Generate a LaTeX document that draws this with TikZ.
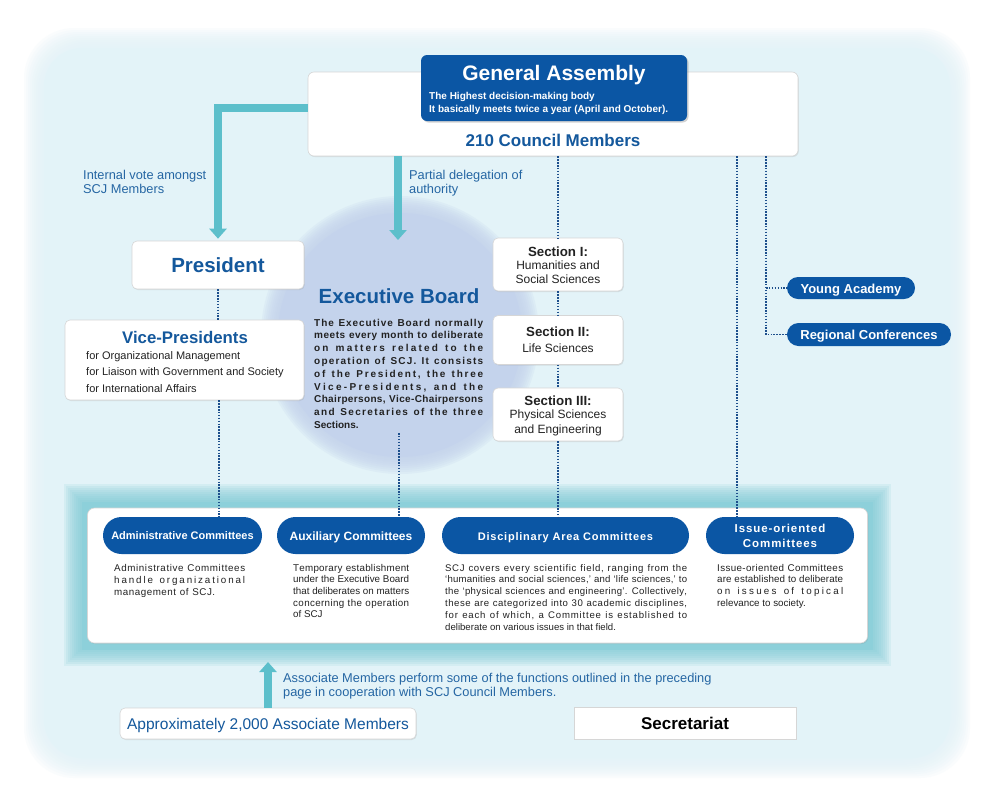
\documentclass[tikz,border=0pt]{standalone}
\usepackage{fontspec}
\setmainfont{Liberation Sans}
\usetikzlibrary{arrows.meta,shadows,calc}
\definecolor{bgc}{HTML}{E3F3F8}
\definecolor{dblue}{HTML}{0B56A4}
\definecolor{tblue}{HTML}{14589C}
\definecolor{lblue}{HTML}{2566A3}
\definecolor{tealc}{HTML}{5CBFCB}
\definecolor{dotc}{HTML}{1D4F8C}
\definecolor{circc}{HTML}{C4D3EC}
\definecolor{glowc}{HTML}{80CBD6}
\definecolor{txt}{HTML}{222222}
\newcommand\fsz[2]{\fontsize{#1}{#2}\selectfont}
\ExplSyntaxOn
\cs_new:Npn \spreadline #1 #2
  { \hbox_to_wd:nn {#1 pt}
      { \str_map_inline:nn {#2} { ##1 \skip_horizontal:n { 0pt plus 1fil minus 0.35pt } } \unskip } }
\ExplSyntaxOff
\begin{document}
\begin{tikzpicture}[x=1pt,y=-1pt,
  wbox/.style={draw=black!16, line width=0.6pt, fill=white, rounded corners=5pt, inner sep=0pt,
    drop shadow={shadow xshift=0.8pt, shadow yshift=-1pt, opacity=0.18}},
  gabox/.style={fill=dblue, rounded corners=6pt, inner sep=0pt,
    drop shadow={shadow xshift=1.5pt, shadow yshift=-1.5pt, opacity=0.35}},
  pill/.style={fill=dblue, inner sep=0pt},
  lbl/.style={inner sep=0pt},
  dotl/.style={draw=dotc, line width=1.6pt, dash pattern=on 1.5pt off 1.4pt},
  tarrow/.style={draw=tealc, line width=7.5pt, -{Triangle[width=17pt,length=10pt]}},
]
\useasboundingbox (0,0) rectangle (1000,801);
% background
\fill[white] (0,0) rectangle (1000,801);
\foreach \d in {0,2,...,18}
  \fill[bgc, opacity=0.17, rounded corners=50pt] (24+\d,28+\d) rectangle (970-\d,778-\d);
\fill[bgc, rounded corners=38pt] (44,48) rectangle (950,758);
% executive board circle
\foreach \r in {139,137,...,123}
  \fill[circc, opacity=0.2] (400,335) circle[radius=\r pt];
\node[circle, fill=circc, inner sep=0pt, minimum size=244pt] (eb) at (400,335) {};
% committees panel glow
\foreach \d in {0,2,...,16}
  \fill[glowc, opacity=0.15] (64+\d,484+\d) rectangle (891-\d,666-\d);
\fill[glowc!90!white] (82,502) rectangle (873,650);
\coordinate (pbot) at (268,662);
\node[wbox, rounded corners=7pt, minimum width=780pt, minimum height=135pt] (panel) at (477.5,575.5) {};

% council / general assembly
\node[wbox, rounded corners=6pt, minimum width=490pt, minimum height=84pt] (council) at (553,114) {};
\node[gabox, minimum width=266pt, minimum height=66pt] (ga) at (554,88) {};
\node[lbl, anchor=base, text=white, font=\bfseries\fsz{21}{24}] (gat) at (554,80) {General Assembly};
\node[lbl, anchor=base west, text=white, font=\bfseries\fsz{10}{13}, align=left] (gas) at (429,112.5)
  {The Highest decision-making body\\It basically meets twice a year (April and October).};
\node[lbl, anchor=base, text=tblue, font=\bfseries\fsz{17}{20}] (cm) at (553,146) {210 Council Members};

% president
\node[wbox, minimum width=172pt, minimum height=48pt] (pres) at (218,265) {};
\node[lbl, anchor=base, text=tblue, font=\bfseries\fsz{20.5}{24}] (prest) at (218,272.5) {President};

% teal arrows
\coordinate (ebtop) at (398,240);
\draw[tarrow] ([yshift=6pt]council.west) -| ([yshift=2pt]pres.north);
\draw[tarrow] (council.south -| ebtop) -- (ebtop);
\node[lbl, anchor=base west, align=left, text=lblue, font=\fsz{12.8}{14}] (lab1) at (83,193)
  {Internal vote amongst\\SCJ Members};
\node[lbl, anchor=base west, align=left, text=lblue, font=\fsz{12.8}{14}] (lab2) at (409,193)
  {Partial delegation of\\authority};

% executive board text
\node[lbl, anchor=base, text=tblue, font=\bfseries\fsz{20.5}{24}] (ebt) at (399,303) {Executive Board};
\node[lbl, anchor=base west, align=left, text=txt, font=\bfseries\fsz{10}{12.8}] (ebtxt) at (314,428.4)
  {\spreadline{169}{The Executive Board normally}\\
   \spreadline{169}{meets every month to deliberate}\\
   \spreadline{169}{on matters related to the}\\
   \spreadline{169}{operation of SCJ. It consists}\\
   \spreadline{169}{of the President, the three}\\
   \spreadline{169}{Vice-Presidents, and the}\\
   \spreadline{169}{Chairpersons, Vice-Chairpersons}\\
   \spreadline{169}{and Secretaries of the three}\\
   Sections.};
\coordinate (ebd) at (399,433);

% vice presidents
\node[wbox, minimum width=239pt, minimum height=80pt] (vp) at (184.5,360) {};
\node[lbl, anchor=base, text=tblue, font=\bfseries\fsz{16.8}{20}] (vpt) at (185,343) {Vice-Presidents};
\node[lbl, anchor=base west, align=left, text=txt, font=\fsz{11}{16.5}] (vpl) at (86,392)
  {for Organizational Management\\for Liaison with Government and Society\\for International Affairs};

% sections
\node[wbox, minimum width=130pt, minimum height=53pt] (sec1) at (558,264.5) {};
\node[lbl, anchor=base, text=txt, font=\bfseries\fsz{13.3}{15}] (s1t) at (558,256) {Section I:};
\node[lbl, anchor=base, align=center, text=txt, font=\fsz{12}{14.2}] (s1b) at (558,283.2) {Humanities and\\Social Sciences};
\node[wbox, minimum width=130pt, minimum height=49pt] (sec2) at (558,340) {};
\node[lbl, anchor=base, text=txt, font=\bfseries\fsz{13.3}{15}] (s2t) at (558,336) {Section II:};
\node[lbl, anchor=base, text=txt, font=\fsz{12}{14.2}] (s2b) at (558,352) {Life Sciences};
\node[wbox, minimum width=130pt, minimum height=53pt] (sec3) at (558,414.5) {};
\node[lbl, anchor=base, text=txt, font=\bfseries\fsz{13.3}{15}] (s3t) at (558,405.5) {Section III:};
\node[lbl, anchor=base, align=center, text=txt, font=\fsz{12}{14.5}] (s3b) at (558,433) {Physical Sciences\\and Engineering};

% young academy / regional
\node[pill, rounded corners=11pt, minimum width=128pt, minimum height=22pt] (young) at (851,288) {};
\node[lbl, anchor=base, text=white, font=\bfseries\fsz{13}{14}] (youngt) at (851,293) {Young Academy};
\node[pill, rounded corners=11.5pt, minimum width=164pt, minimum height=23pt] (regional) at (869,334.5) {};
\node[lbl, anchor=base, text=white, font=\bfseries\fsz{13}{14}] (regt) at (869,339) {Regional Conferences};

% committees
\node[pill, rounded corners=18.5pt, minimum width=159pt, minimum height=37pt] (admin) at (182.5,535.5) {};
\node[lbl, anchor=base, text=white, font=\bfseries\fsz{11}{13}] (admint) at (182.5,539) {Administrative Committees};
\node[pill, rounded corners=18.5pt, minimum width=148pt, minimum height=37pt] (aux) at (351,535.5) {};
\node[lbl, anchor=base, text=white, font=\bfseries\fsz{12}{13}] (auxt) at (351,540) {Auxiliary Committees};
\node[pill, rounded corners=18.5pt, minimum width=247pt, minimum height=37pt] (disc) at (565.5,535.5) {};
\node[lbl, anchor=base, text=white, font=\bfseries\fsz{11}{13}\addfontfeature{LetterSpace=7}] (disct) at (565.5,540) {Disciplinary Area Committees};
\node[pill, rounded corners=18.5pt, minimum width=148pt, minimum height=37pt] (issue) at (780,535.5) {};
\node[lbl, anchor=base, align=center, text=white, font=\bfseries\fsz{11.5}{15}\addfontfeature{LetterSpace=8}] (issuet) at (780,547) {Issue-oriented\\Committees};

\node[lbl, anchor=base west, align=left, text=txt, font=\fsz{9.8}{12}] (admind) at (114,595)
  {\spreadline{131}{Administrative Committees}\\
   \spreadline{131}{handle organizational}\\
   \spreadline{101}{management of SCJ.}};
\node[lbl, anchor=base west, align=left, text=txt, font=\fsz{9.8}{11.7}] (auxd) at (293,617.8)
  {\spreadline{116}{Temporary establishment}\\
   \spreadline{116}{under the Executive Board}\\
   \spreadline{116}{that deliberates on matters}\\
   \spreadline{116}{concerning the operation}\\
   of SCJ};
\node[lbl, anchor=base west, align=left, text=txt, font=\fsz{9.6}{11.8}] (discd) at (445,630)
  {\spreadline{242}{SCJ covers every scientific field, ranging from the}\\
   \spreadline{242}{‘humanities and social sciences,’ and ‘life sciences,’ to}\\
   \spreadline{242}{the ‘physical sciences and engineering’. Collectively,}\\
   \spreadline{242}{these are categorized into 30 academic disciplines,}\\
   \spreadline{242}{for each of which, a Committee is established to}\\
   deliberate on various issues in that field.};
\node[lbl, anchor=base west, align=left, text=txt, font=\fsz{9.8}{11.8}] (issued) at (717,606.4)
  {\spreadline{126}{Issue-oriented Committees}\\
   \spreadline{126}{are established to deliberate}\\
   \spreadline{126}{on issues of topical}\\
   relevance to society.};

% dotted connectors
\draw[dotl] (pres.south) -- (pres.south |- vp.north);
\draw[dotl] ([xshift=1pt]pres.south |- vp.south) -- ([xshift=1pt]pres.south |- admin.north);
\draw[dotl] (ebd) -- (ebd |- aux.north);
\draw[dotl] (sec1.north |- council.south) -- (sec1.north);
\draw[dotl] (sec1.south) -- (sec2.north);
\draw[dotl] (sec2.south) -- (sec3.north);
\draw[dotl] (sec3.south) -- (sec3.south |- disc.north);
\coordinate (rx1) at (737,300);
\coordinate (rx2) at (766,300);
\draw[dotl] (rx1 |- council.south) -- (rx1 |- issue.north);
\draw[dotl] (rx2 |- council.south) |- (regional.west);
\draw[dotl] (rx2 |- young.west) -- (young.west);

% associate members
\node[wbox, minimum width=296pt, minimum height=31pt] (assoc) at (268,723.5) {};
\node[lbl, anchor=base, text=tblue, font=\fsz{15.5}{17}] (assoct) at (268,729) {Approximately 2,000 Associate Members};
\draw[tarrow] (assoc.north) -- (assoc.north |- pbot);
\node[lbl, anchor=base west, align=left, text=lblue, font=\fsz{12.8}{14}] (lab3) at (283,696)
  {Associate Members perform some of the functions outlined in the preceding\\page in cooperation with SCJ Council Members.};

% secretariat
\node[fill=white, draw=black!16, line width=0.6pt, inner sep=0pt, minimum width=222pt, minimum height=32pt,
  drop shadow={shadow xshift=0.8pt, shadow yshift=-1pt, opacity=0.18}] (secr) at (685,723) {};
\node[lbl, anchor=base, text=black, font=\bfseries\fsz{17}{18}] (secrt) at (685,729.5) {Secretariat};
\end{tikzpicture}
\end{document}
